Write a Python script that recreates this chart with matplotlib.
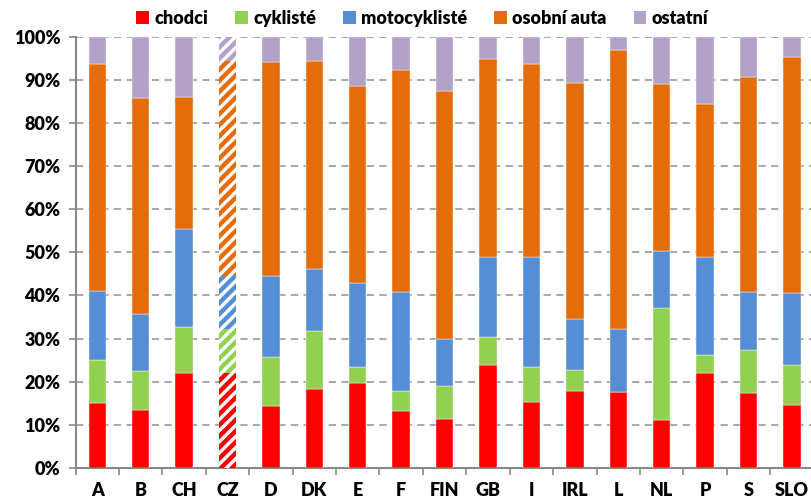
import matplotlib
matplotlib.use("Agg")
import matplotlib.pyplot as plt
from matplotlib.patches import Patch
from matplotlib.ticker import MultipleLocator, FixedLocator, PercentFormatter
import numpy as np

plt.rcParams['font.family'] = ['Lato', 'DejaVu Sans']
plt.rcParams['font.weight'] = 'heavy'
plt.rcParams['hatch.linewidth'] = 3.2

countries = ["A", "B", "CH", "CZ", "D", "DK", "E", "F", "FIN", "GB", "I", "IRL", "L", "NL", "P", "S", "SLO"]
# cumulative tops (percent)
top_chodci = [15.1, 13.5, 22.1, 21.9, 14.4, 18.4, 19.7, 13.3, 11.3, 23.8, 15.3, 17.8, 17.6, 11.1, 22.1, 17.4, 14.5]
top_cyklist = [25.0, 22.4, 32.7, 32.3, 25.8, 31.8, 23.4, 17.9, 18.9, 30.4, 23.4, 22.8, 17.6, 37.1, 26.2, 27.3, 23.8]
top_moto = [41.1, 35.6, 55.4, 44.5, 44.5, 46.1, 42.8, 40.9, 29.9, 48.8, 49.0, 34.5, 32.2, 50.2, 48.9, 40.9, 40.6]
top_auta = [93.7, 85.7, 86.0, 94.3, 94.2, 94.4, 88.6, 92.3, 87.3, 94.9, 93.7, 89.3, 96.9, 89.1, 84.4, 90.7, 95.3]

chodci = np.array(top_chodci)
cyklisté = np.array(top_cyklist) - np.array(top_chodci)
motocyklisté = np.array(top_moto) - np.array(top_cyklist)
osobni_auta = np.array(top_auta) - np.array(top_moto)
ostatni = 100 - np.array(top_auta)

series_names = ["chodci", "cyklisté", "motocyklisté", "osobní auta", "ostatní"]
series = [chodci, cyklisté, motocyklisté, osobni_auta, ostatni]
colors = ["#FF0000", "#92D050", "#558ED5", "#E46C0A", "#B3A2C7"]
hatched = "CZ"

fig = plt.figure(figsize=(8.12, 5.01), dpi=100)
ax = fig.add_axes([0.093, 0.066, 0.909, 0.861])

x = np.arange(len(countries))
bottom = np.zeros(len(countries))
for vals, col in zip(series, colors):
    for i, c in enumerate(countries):
        if c == hatched:
            ax.bar(x[i], vals[i], 0.4, bottom=bottom[i], facecolor="white",
                   edgecolor=col, hatch="///", linewidth=0, zorder=3)
        else:
            ax.bar(x[i], vals[i], 0.4, bottom=bottom[i], color=col,
                   edgecolor="white", linewidth=0.3, zorder=3)
    bottom = bottom + vals

ax.set_xlim(-0.5, len(countries) - 0.5)
ax.set_ylim(0, 100)
ax.yaxis.set_major_locator(MultipleLocator(10))
ax.yaxis.set_major_formatter(PercentFormatter(decimals=0))
ax.set_xticks(x)
ax.set_xticklabels(countries)
ax.xaxis.set_minor_locator(FixedLocator(np.arange(-0.5, len(countries), 1)))
ax.tick_params(axis='x', which='major', length=0, pad=10, labelsize=13)
ax.tick_params(axis='x', which='minor', length=5, width=1.2, color="#888888", direction='out')
ax.tick_params(axis='y', which='major', length=5, width=1.2, color="#888888", pad=6, labelsize=13)

ax.grid(axis='y', linestyle=(0, (4, 3)), color="#A0A0A0", linewidth=1.3, zorder=0)
ax.set_axisbelow(True)
for s in ["top", "right"]:
    ax.spines[s].set_visible(False)
for s in ["left", "bottom"]:
    ax.spines[s].set_color("#888888")
    ax.spines[s].set_linewidth(1.5)

handles = [Patch(facecolor=c, edgecolor='none') for c in colors]
fig.legend(handles, series_names, loc='center', bbox_to_anchor=(0.52, 0.963), ncol=5,
           frameon=False, fontsize=13, handlelength=0.7, handleheight=0.7,
           handletextpad=0.3, columnspacing=1.5)

fig.savefig("out.png", dpi=100)
